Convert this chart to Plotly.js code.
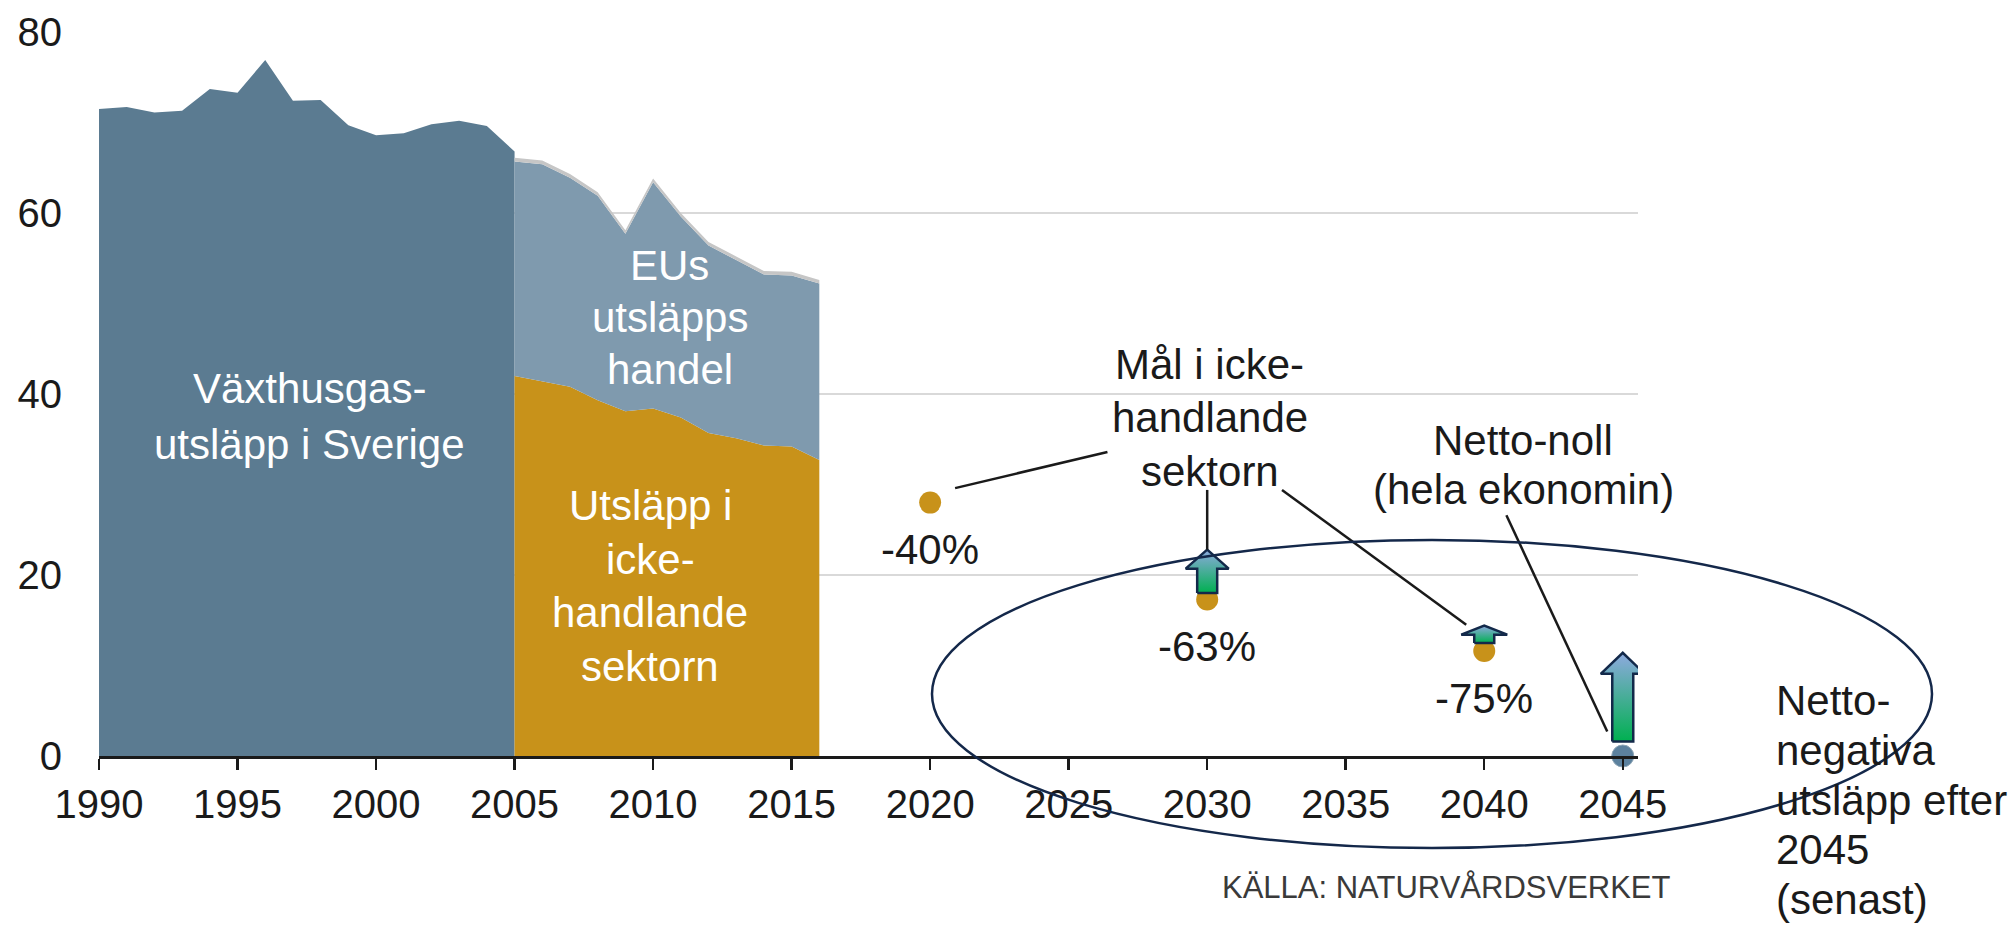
<!DOCTYPE html>
<html>
<head>
<meta charset="utf-8">
<script src="https://cdn.plot.ly/plotly-3.0.1.min.js"></script>
<style>
html,body{margin:0;padding:0;background:#ffffff;}
#chart{width:2016px;height:926px;}
</style>
</head>
<body>
<div id="chart"></div>
<script>
// ---------------- DATA ----------------
const yearsSweden = [1990,1991,1992,1993,1994,1995,1996,1997,1998,1999,2000,2001,2002,2003,2004,2005];
const swedenTotal = [71.5,71.7,71.1,71.3,73.7,73.3,76.9,72.4,72.5,69.7,68.6,68.8,69.8,70.2,69.6,66.8];

const yearsSector = [2005,2006,2007,2008,2009,2010,2011,2012,2013,2014,2015,2016];
const nonTrading  = [42.0,41.4,40.8,39.3,38.1,38.4,37.4,35.7,35.1,34.3,34.2,32.7];
const euEts       = [23.7,24.0,23.1,22.6,19.6,25.0,22.2,20.7,19.7,18.9,18.9,19.5];
const otherBand   = [0.4,0.4,0.4,0.4,0.4,0.4,0.4,0.4,0.4,0.4,0.4,0.4];

const targetYears  = [2020,2030,2040];
const targetValues = [28.0,17.3,11.6];
const targetLabels = ['-40%','-63%','-75%'];

const netZeroYears  = [2045];
const netZeroValues = [0];

const arrowYears = [2030,2040,2045];
const arrowBase  = [18.0,12.5,1.6];
const arrowTip   = [22.8,14.4,11.4];

const xTickVals = [1990,1995,2000,2005,2010,2015,2020,2025,2030,2035,2040,2045];
const yTickVals = [0,20,40,60,80];

const labelSweden  = ['Växthusgas-','utsläpp i Sverige'];
const labelEts     = ['EUs','utsläpps','handel'];
const labelNonTr   = ['Utsläpp i','icke-','handlande','sektorn'];
const labelGoal    = ['Mål i icke-','handlande','sektorn'];
const labelNetZero = ['Netto-noll','(hela ekonomin)'];
const labelNeg     = ['Netto-','negativa','utsläpp efter','2045','(senast)'];
const sourceText   = 'KÄLLA: NATURVÅRDSVERKET';

// ---------------- LAYOUT CONSTANTS ----------------
const FONT = 'Liberation Sans, Arial, Helvetica, sans-serif';
const W = 2016, H = 926, ML = 99, MR = 378, MT = 32, MB = 170;
const xRange = [1990, 2045.55], yRange = [0, 80];
const plotW = W - ML - MR, plotH = H - MT - MB;
const pxPerYear = plotW / (xRange[1] - xRange[0]);
const pxPerUnit = plotH / (yRange[1] - yRange[0]);
const px2paperX = p => (p - ML) / plotW;
const px2paperY = p => (H - MB - p) / plotH;

const C_DARK = '#5b7b91', C_ETS = '#7f9aae', C_GOLD = '#c8921a', C_TOP = '#c6c6c6';
const TXT = '#1a1a1a';

const traces = [];
traces.push({x: yearsSweden, y: swedenTotal, type: 'scatter', mode: 'lines', fill: 'tozeroy',
  fillcolor: C_DARK, line: {width: 0, color: C_DARK}, hoverinfo: 'skip'});
traces.push({x: yearsSector, y: nonTrading, type: 'scatter', mode: 'lines', stackgroup: 's',
  fillcolor: C_GOLD, line: {width: 0, color: C_GOLD}, hoverinfo: 'skip'});
traces.push({x: yearsSector, y: euEts, type: 'scatter', mode: 'lines', stackgroup: 's',
  fillcolor: C_ETS, line: {width: 0, color: C_ETS}, hoverinfo: 'skip'});
traces.push({x: yearsSector, y: otherBand, type: 'scatter', mode: 'lines', stackgroup: 's',
  fillcolor: C_TOP, line: {width: 0, color: C_TOP}, hoverinfo: 'skip'});
traces.push({x: targetYears, y: targetValues, type: 'scatter', mode: 'markers',
  marker: {size: 22, color: C_GOLD}, hoverinfo: 'skip'});
traces.push({x: netZeroYears, y: netZeroValues, type: 'scatter', mode: 'markers', cliponaxis: false,
  marker: {size: 22, color: '#5c819e', line: {color: '#8fa6b6', width: 1}}, hoverinfo: 'skip'});

// block arrows (gradient)
const headHalfPx = [21.5, 23, 22];
const shaftHalfPx = [10, 10, 10.5];
const headLenPx = [19, 9, 21];
arrowYears.forEach((yr, i) => {
  const hw = headHalfPx[i] / pxPerYear, sw = shaftHalfPx[i] / pxPerYear;
  const hb = arrowTip[i] - headLenPx[i] / pxPerUnit, b = arrowBase[i], t = arrowTip[i];
  traces.push({
    x: [yr - sw, yr - sw, yr - hw, yr, yr + hw, yr + sw, yr + sw, yr - sw],
    y: [b, hb, hb, t, hb, hb, b, b],
    type: 'scatter', mode: 'lines', fill: 'toself',
    fillgradient: {type: 'vertical', colorscale: [[0, '#00b050'], [1, '#8eaadf']]},
    line: {color: '#13294a', width: 2.5}, hoverinfo: 'skip'
  });
});

// ---------------- ANNOTATIONS ----------------
const annotations = [];
function block(lines, x, y, spacing, opts) {
  const n = lines.length;
  lines.forEach((t, i) => {
    annotations.push(Object.assign({
      text: t, x: x, y: y, xref: 'x', yref: 'y', showarrow: false,
      xanchor: 'center', yanchor: 'middle',
      yshift: ((n - 1) / 2 - i) * spacing,
      font: {family: FONT, size: 42, color: TXT}
    }, opts || {}));
  });
}
block(labelSweden, 1997.6, 37.5, 56, {font: {family: FONT, size: 42, color: '#ffffff'}});
block(labelEts, 2010.6, 48.4, 52, {font: {family: FONT, size: 42, color: '#ffffff'}});
block(labelNonTr, 2009.9, 18.8, 53.5, {font: {family: FONT, size: 42, color: '#ffffff'}});
block(labelGoal, 2030.1, 37.35, 53.5);
block(labelNetZero, 2041.4, 32.1, 49);
block(labelNeg, 0, 0, 49.75, {xref: 'paper', yref: 'paper', x: px2paperX(1774), y: px2paperY(800), xanchor: 'left'});

targetYears.forEach((yr, i) => {
  annotations.push({text: targetLabels[i], x: yr, y: targetValues[i], xref: 'x', yref: 'y',
    showarrow: false, xanchor: 'center', yanchor: 'middle', yshift: -47,
    font: {family: FONT, size: 42, color: TXT}});
});

annotations.push({text: sourceText, xref: 'paper', yref: 'paper', x: px2paperX(1446), y: px2paperY(887),
  xanchor: 'center', yanchor: 'middle', showarrow: false,
  font: {family: FONT, size: 31, color: '#3a3a3a'}});

// ---------------- SHAPES ----------------
const leader = (x0, y0, x1, y1) => ({type: 'line', xref: 'x', yref: 'y', x0, y0, x1, y1,
  line: {color: TXT, width: 2.5}});
const shapes = [
  leader(2020.9, 29.6, 2026.4, 33.6),
  leader(2030, 29.4, 2030, arrowTip[0]),
  leader(2032.7, 29.4, 2039.35, 14.5),
  leader(2040.8, 26.6, 2044.44, 2.7),
  {type: 'circle', xref: 'paper', yref: 'paper',
   x0: px2paperX(932), x1: px2paperX(1932), y0: px2paperY(848), y1: px2paperY(540),
   line: {color: '#14284a', width: 2.5}, fillcolor: 'rgba(0,0,0,0)', layer: 'above'}
];

const layout = {
  width: W, height: H,
  margin: {l: ML, r: MR, t: MT, b: MB, pad: 0},
  paper_bgcolor: '#ffffff', plot_bgcolor: '#ffffff',
  showlegend: false, hovermode: false,
  font: {family: FONT, color: TXT},
  xaxis: {range: xRange, tickvals: xTickVals, ticks: 'outside', ticklen: 11, tickwidth: 2.5,
    tickcolor: TXT, showline: true, linecolor: TXT, linewidth: 3, showgrid: false, zeroline: false,
    tickfont: {family: FONT, size: 40, color: TXT}, ticklabelstandoff: 0, fixedrange: true},
  yaxis: {range: yRange, tickvals: yTickVals, ticks: '', showgrid: true, gridcolor: '#d9d9d9',
    gridwidth: 2, zeroline: false, showline: false,
    tickfont: {family: FONT, size: 40, color: TXT}, ticklabelstandoff: 36, fixedrange: true},
  annotations: annotations,
  shapes: shapes
};

Plotly.newPlot('chart', traces, layout, {displayModeBar: false, staticPlot: true});
</script>
</body>
</html>
